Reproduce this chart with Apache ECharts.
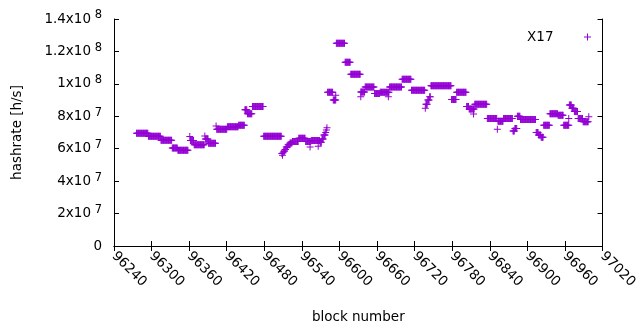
<!DOCTYPE html>
<html>
<head>
<meta charset="utf-8">
<script src="https://cdn.jsdelivr.net/npm/echarts@6/dist/echarts.min.js"></script>
<style>
  html, body { margin: 0; padding: 0; background: #fff; }
  #chart { width: 640px; height: 330px; }
</style>
</head>
<body>
<div id="chart"></div>
<script>
// hashrate is constant between difficulty changes: stored as runs of blocks
const runStart = [96276, 96295, 96315, 96333, 96342, 96361, 96362, 96368, 96385, 96386,
  96391, 96403, 96404, 96421, 96439, 96449, 96453, 96461, 96479, 96508,
  96509, 96510, 96511, 96513, 96515, 96518, 96521, 96525, 96535, 96546,
  96553, 96555, 96566, 96569, 96572, 96575, 96578, 96579, 96580, 96581,
  96590, 96594, 96595, 96609, 96618, 96634, 96634, 96641, 96656, 96665,
  96678, 96680, 96700, 96715, 96737, 96738, 96741, 96744, 96746, 96779,
  96787, 96803, 96807, 96814, 96816, 96836, 96852, 96853, 96862, 96877,
  96880, 96884, 96889, 96914, 96918, 96922, 96926, 96936, 96949, 96958,
  96966, 96967, 96971, 96975, 96981, 96989, 96998]
const runEnd = [96294, 96314, 96332, 96341, 96358, 96361, 96367, 96384, 96385, 96390,
  96402, 96403, 96420, 96438, 96448, 96452, 96460, 96478, 96507, 96508,
  96509, 96510, 96512, 96514, 96517, 96520, 96524, 96534, 96545, 96554,
  96553, 96568, 96566, 96571, 96574, 96577, 96578, 96579, 96580, 96589,
  96594, 96594, 96608, 96617, 96633, 96640, 96634, 96655, 96664, 96679,
  96678, 96699, 96714, 96736, 96737, 96740, 96743, 96745, 96778, 96786,
  96802, 96806, 96815, 96814, 96835, 96851, 96852, 96861, 96876, 96879,
  96883, 96888, 96913, 96917, 96921, 96925, 96935, 96948, 96957, 96966,
  96966, 96970, 96974, 96980, 96988, 96997, 96998]
const runValue = [6.95e7, 6.77e7, 6.52e7, 6.05e7, 5.9e7, 6.76e7, 6.5e7, 6.25e7, 6.78e7, 6.6e7,
  6.33e7, 7.4e7, 7.2e7, 7.35e7, 7.45e7, 8.4e7, 8.15e7, 8.6e7, 6.77e7, 5.7e7,
  5.6e7, 5.75e7, 5.85e7, 5.95e7, 6.1e7, 6.25e7, 6.35e7, 6.45e7, 6.64e7, 6.45e7,
  6.1e7, 6.5e7, 6.15e7, 6.4e7, 6.6e7, 6.85e7, 7.0e7, 7.15e7, 7.3e7, 9.48e7,
  9.0e7, 9.3e7, 1.25e8, 1.133e8, 1.059e8, 9.5e7, 9.2e7, 9.8e7, 9.4e7, 9.48e7,
  9.2e7, 9.8e7, 1.028e8, 9.6e7, 8.5e7, 8.75e7, 9.0e7, 9.2e7, 9.89e7, 9.04e7,
  9.48e7, 8.6e7, 8.45e7, 8.14e7, 8.74e7, 7.87e7, 7.2e7, 7.7e7, 7.87e7, 7.1e7,
  7.25e7, 8.0e7, 7.8e7, 7.0e7, 6.85e7, 6.7e7, 7.44e7, 8.16e7, 8.06e7, 7.44e7,
  7.87e7, 8.7e7, 8.5e7, 8.3e7, 7.87e7, 7.67e7, 7.97e7]

const yTickBase = ['0', '2x10', '4x10', '6x10', '8x10', '1x10', '1.2x10', '1.4x10']
const yTickExp = ['', '7', '7', '7', '7', '8', '8', '8']

const points = []
runStart.forEach((s, i) => {
  for (let b = s; b <= runEnd[i]; b++) points.push([b, runValue[i]])
})

const font = 'DejaVu Sans'
const plus = 'path://M3,0H4V3H7V4H4V7H3V4H0V3H3Z'
const purple = '#9400d3'

const xBase = {
  min: 96240,
  max: 97020,
  interval: 60,
  splitLine: { show: false },
  axisLine: { lineStyle: { color: '#000', width: 1 } },
  axisTick: { inside: true, length: 5, lineStyle: { color: '#000' } }
}
const yBase = {
  min: 0,
  max: 1.4e8,
  interval: 2e7,
  splitLine: { show: false },
  axisLine: { show: true, lineStyle: { color: '#000', width: 1 } },
  axisTick: { show: true, inside: true, length: 5, lineStyle: { color: '#000' } }
}

const myChart = echarts.init(document.getElementById('chart'))
myChart.setOption({
  animation: false,
  textStyle: { fontFamily: font },
  grid: { left: 114, right: 32, top: 19, bottom: 84 },
  legend: {
    right: 44,
    top: 25,
    align: 'right',
    itemWidth: 58,
    itemHeight: 7,
    textStyle: { fontFamily: font, fontSize: 13.5, color: '#000' },
    data: ['X17']
  },
  xAxis: [
    Object.assign({}, xBase, {
      type: 'value',
      position: 'bottom',
      name: 'block number',
      nameLocation: 'middle',
      nameGap: 64,
      nameTextStyle: { fontFamily: font, fontSize: 13.5, color: '#000' },
      axisLabel: {
        rotate: -45,
        margin: 8,
        fontFamily: font,
        fontSize: 13.5,
        color: '#000',
        formatter: v => String(v)
      }
    }),
    Object.assign({}, xBase, {
      type: 'value',
      position: 'top',
      axisLabel: { show: false }
    })
  ],
  yAxis: [
    Object.assign({}, yBase, {
      type: 'value',
      position: 'left',
      name: 'hashrate [h/s]',
      nameLocation: 'middle',
      nameRotate: 90,
      nameGap: 90,
      nameTextStyle: { fontFamily: font, fontSize: 13.5, color: '#000' },
      axisLabel: {
        margin: 12,
        fontFamily: font,
        fontSize: 13.5,
        color: '#000',
        formatter: v => {
          const i = Math.round(v / 2e7)
          return yTickExp[i] ? `{b|${yTickBase[i]}}{s| ${yTickExp[i]}}` : `{b|${yTickBase[i]}}`
        },
        rich: {
          b: { fontFamily: font, fontSize: 13.5, color: '#000' },
          s: { fontFamily: font, fontSize: 11.5, color: '#000', padding: [0, 0, 7, 0] }
        }
      }
    }),
    Object.assign({}, yBase, {
      type: 'value',
      position: 'right',
      axisLabel: { show: false }
    })
  ],
  series: [
    {
      name: 'X17',
      type: 'scatter',
      symbol: plus,
      symbolSize: 7,
      itemStyle: { color: purple, opacity: 1 },
      emphasis: { disabled: true },
      data: points
    }
  ]
})
window.addEventListener('resize', () => {
  myChart.resize()
})
</script>
</body>
</html>
